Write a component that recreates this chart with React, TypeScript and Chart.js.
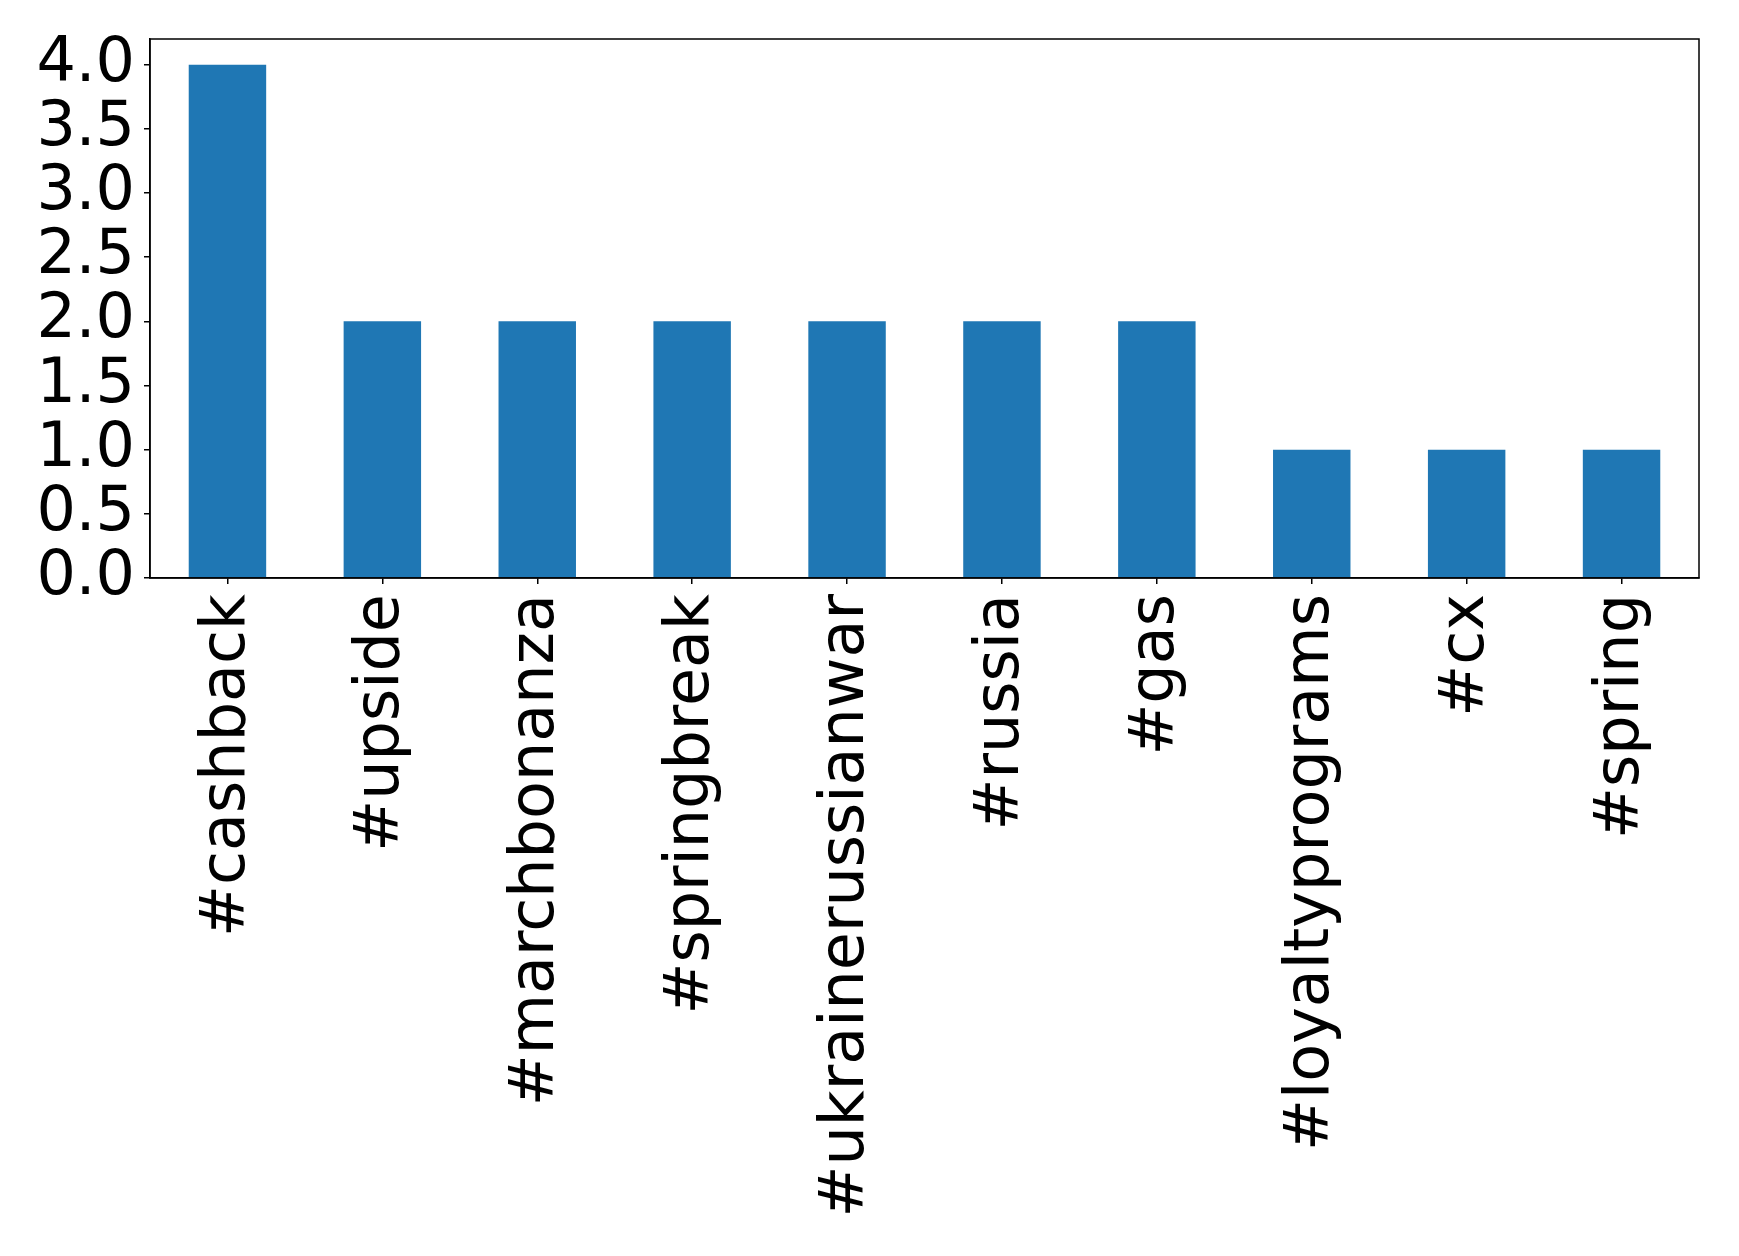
import React, { useEffect, useRef } from "react";
import { Chart, registerables } from "chart.js";

Chart.register(...registerables);

const categories = [
  "#cashback",
  "#upside",
  "#marchbonanza",
  "#springbreak",
  "#ukrainerussianwar",
  "#russia",
  "#gas",
  "#loyaltyprograms",
  "#cx",
  "#spring",
];
const counts = [4, 2, 2, 2, 2, 2, 2, 1, 1, 1];

const W = 1739;
const H = 1256;
const FONT = "'DejaVu Sans', sans-serif";

const boxPlugin = {
  id: "boxPlugin",
  afterDraw(chart: any) {
    const { ctx, chartArea } = chart;
    ctx.save();
    ctx.strokeStyle = "#000";
    ctx.lineWidth = 1.5;
    ctx.strokeRect(chartArea.left, chartArea.top, chartArea.right - chartArea.left, chartArea.bottom - chartArea.top);
    ctx.restore();
  },
};

export default function App() {
  const ref = useRef<HTMLCanvasElement | null>(null);
  useEffect(() => {
    if (!ref.current) return;
    const chart = new Chart(ref.current, {
      type: "bar",
      data: {
        labels: categories,
        datasets: [
          {
            data: counts,
            backgroundColor: "#1f77b4",
            borderWidth: 0,
            categoryPercentage: 1,
            barPercentage: 0.5,
          },
        ],
      },
      options: {
        animation: false,
        responsive: false,
        devicePixelRatio: 1,
        layout: { padding: { top: 39, right: 40, left: 0, bottom: 0 } },
        plugins: { legend: { display: false }, tooltip: { enabled: false } },
        scales: {
          x: {
            offset: true,
            grid: { display: true, offset: false, drawOnChartArea: false, tickLength: 6, color: "#000", lineWidth: 1.5 },
            border: { display: true, color: "#000", width: 1.5 },
            ticks: {
              autoSkip: false,
              maxRotation: 90,
              minRotation: 90,
              padding: 10,
              color: "#000",
              font: { family: FONT, size: 62 },
            },
            afterFit(scale: any) {
              scale.height = H - 578;
              scale.paddingLeft = 0;
              scale.paddingRight = 0;
            },
          },
          y: {
            min: 0,
            max: 4.2,
            grid: { display: true, drawOnChartArea: false, tickLength: 6, color: "#000", lineWidth: 1.5 },
            border: { display: true, color: "#000", width: 1.5 },
            ticks: {
              stepSize: 0.5,
              autoSkip: false,
              includeBounds: false,
              padding: 9,
              color: "#000",
              font: { family: FONT, size: 62 },
              callback: (v: any) => Number(v).toFixed(1),
            },
            afterFit(scale: any) {
              scale.width = 150;
              scale.paddingTop = 0;
              scale.paddingBottom = 0;
            },
          },
        },
      },
      plugins: [boxPlugin],
    });
    return () => chart.destroy();
  }, []);
  return (
    <div style={{ position: "absolute", left: 0, top: 0, width: W, height: H, background: "#fff" }}>
      <canvas ref={ref} width={W} height={H} style={{ width: W, height: H, display: "block" }} />
    </div>
  );
}
